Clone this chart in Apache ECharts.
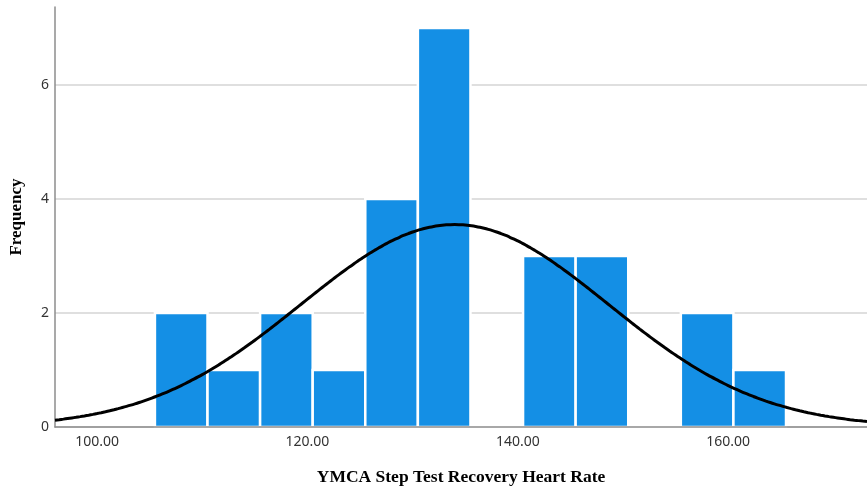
<!DOCTYPE html>
<html>
<head>
<meta charset="utf-8">
<script src="https://cdn.jsdelivr.net/npm/echarts@6/dist/echarts.min.js"></script>
<style>
  html, body { margin: 0; padding: 0; background: #fff; }
  #chart { width: 867px; height: 491px; }
</style>
</head>
<body>
<div id="chart"></div>
<script>
// Histogram bins: lower edge of each bin (width 5) and its frequency
const binStarts = [105.5, 110.5, 115.5, 120.5, 125.5, 130.5, 135.5, 140.5, 145.5, 150.5, 155.5, 160.5];
const binCounts = [2, 1, 2, 1, 4, 7, 0, 3, 3, 0, 2, 1];
const binWidth = 5;

// Summary statistics for the fitted normal curve
const sampleMean = 134.0;
const sampleSD = 14.6;
const sampleN = 26;

// Axis ranges and tick labels
const xRange = [96, 173.2];
const xTicks = [100, 120, 140, 160];
const yRange = [0, 7.37];
const yTicks = [0, 2, 4, 6];

// Normal density scaled to frequency per bin
const curve = [];
for (let x = xRange[0]; x <= xRange[1] + 1e-9; x += 0.4) {
  const z = (x - sampleMean) / sampleSD;
  const y = sampleN * binWidth / (sampleSD * Math.sqrt(2 * Math.PI)) * Math.exp(-0.5 * z * z);
  curve.push([x, y]);
}

const barData = binStarts.map((s, i) => [s, s + binWidth, binCounts[i]]);

const chart = echarts.init(document.getElementById('chart'));
chart.setOption({
  animation: false,
  backgroundColor: '#ffffff',
  grid: { left: 53, right: 0, top: 7, bottom: 62, containLabel: false },
  xAxis: {
    type: 'value',
    min: xRange[0],
    max: xRange[1],
    z: 5,
    name: 'YMCA Step Test Recovery Heart Rate',
    nameLocation: 'middle',
    nameGap: 41,
    nameTextStyle: { fontFamily: 'Liberation Serif', fontWeight: 'bold', fontSize: 17.5, color: '#000' },
    axisLine: { show: true, lineStyle: { color: '#8c8c8c', width: 1.5 } },
    axisTick: { show: false, customValues: xTicks },
    splitLine: { show: false },
    axisLabel: {
      customValues: xTicks,
      formatter: v => v.toFixed(2),
      fontFamily: 'Noto Sans', fontSize: 14, color: '#333', margin: 8
    }
  },
  yAxis: {
    type: 'value',
    min: yRange[0],
    max: yRange[1],
    name: 'Frequency',
    nameLocation: 'middle',
    nameGap: 30,
    nameTextStyle: { fontFamily: 'Liberation Serif', fontWeight: 'bold', fontSize: 17, color: '#000' },
    axisLine: { show: true, lineStyle: { color: '#8c8c8c', width: 1.5 } },
    axisTick: { show: false, customValues: yTicks },
    splitLine: { show: true, lineStyle: { color: '#d4d4d4', width: 1.5 } },
    axisLabel: {
      customValues: yTicks,
      fontFamily: 'Noto Sans', fontSize: 14, color: '#333', margin: 6
    }
  },
  series: [
    {
      type: 'custom',
      data: barData,
      encode: { x: [0, 1], y: 2 },
      renderItem: function (params, api) {
        const p0 = api.coord([api.value(0), 0]);
        const p1 = api.coord([api.value(1), api.value(2)]);
        return {
          type: 'rect',
          shape: { x: p0[0], y: p1[1], width: p1[0] - p0[0], height: p0[1] - p1[1] },
          style: { fill: '#148fe5', stroke: '#ffffff', lineWidth: 2.5 }
        };
      },
      z: 2
    },
    {
      type: 'line',
      data: curve,
      showSymbol: false,
      smooth: true,
      lineStyle: { color: '#000', width: 3 },
      z: 3
    }
  ]
});
</script>
</body>
</html>
